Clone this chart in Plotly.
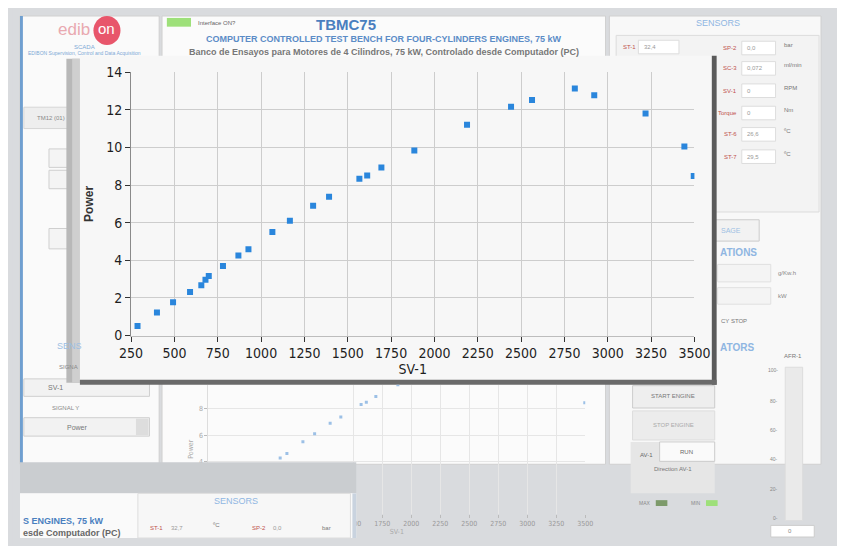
import plotly.graph_objects as go

# ---------------- data ----------------
sv_1 = [287, 399, 492, 590, 655, 679, 698, 780, 869, 927, 1065, 1166, 1300, 1392,
        1567, 1612, 1694, 1884, 2188, 2442, 2563, 2810, 2922, 3218, 3442, 3496]
power = [0.50, 1.22, 1.77, 2.32, 2.67, 2.96, 3.16, 3.70, 4.25, 4.59, 5.50, 6.11, 6.90, 7.38,
         8.34, 8.51, 8.94, 9.84, 11.21, 12.17, 12.53, 13.14, 12.78, 11.81, 10.05, 8.48]
x_ticks = [250, 500, 750, 1000, 1250, 1500, 1750, 2000, 2250, 2500, 2750, 3000, 3250, 3500]
y_ticks = [0, 2, 4, 6, 8, 10, 12, 14]
bg_x_ticks = [1500, 1750, 2000, 2250, 2500, 2750, 3000, 3250, 3500]
bg_y_ticks = [4, 6, 8]

# page body keeps its 8px margin, so the figure is the window minus 16px
OFF = 8
W, H = 845 - 2 * OFF, 554 - 2 * OFF
FONT = "Liberation Sans Narrow, DejaVu Sans Condensed, Roboto Condensed, Liberation Sans, sans-serif"
UIFONT = "Liberation Sans, sans-serif"


def px(x):
    return (x - OFF) / W


def py(y):
    return 1 - (y - OFF) / H


shapes = []
annotations = []


def rect(x0, y0, x1, y1, fill, line=None, lw=1, layer="below"):
    shapes.append(dict(type="rect", xref="paper", yref="paper",
                       x0=px(x0), x1=px(x1), y0=py(y1), y1=py(y0),
                       fillcolor=fill, layer=layer,
                       line=dict(color=line or fill, width=lw if line else 0)))


def text(x, y, s, size=9, color="#666", bold=False, anchor="center", angle=0, font=UIFONT):
    if bold:
        s = "<b>" + s + "</b>"
    annotations.append(dict(xref="paper", yref="paper", x=px(x), y=py(y), text=s,
                            showarrow=False, xanchor=anchor, yanchor="middle",
                            textangle=angle,
                            font=dict(size=size, color=color, family=font)))


# ---------------- background UI ----------------
rect(0, 0, 845, 554, "#d9dbde")
rect(8, 8, 152, 470, "#fafafa", "#d0d0d0")
rect(8, 8, 11, 470, "#6f9fd0")
text(64, 22, "edib", 17, "#e9a9b0")
shapes.append(dict(type="circle", xref="paper", yref="paper", x0=px(84), x1=px(112),
                   y0=py(38), y1=py(8), fillcolor="#e8566b", line=dict(width=0), layer="below"))
text(98, 21, "on", 15, "white")
text(75, 40, "SCADA", 6, "#7ea9d6")
text(75, 46, "EDIBON Supervision, Control and Data Acquisition", 5, "#7ea9d6")
rect(12, 102, 70, 124, "#eeeeee", "#d6d6d6")
text(40, 113, "TM12 (01)", 6, "#888")
rect(38, 145, 150, 164, "#f4f4f4", "#cfcfcf")
rect(38, 167, 150, 186, "#f4f4f4", "#cfcfcf")
rect(38, 227, 150, 248, "#f4f4f4", "#cfcfcf")
text(44, 348, "SENS", 9, "#9dbfe3", anchor="left")
text(46, 370, "SIGNA", 6, "#888", anchor="left")
rect(12, 382, 142, 400, "#f2f2f2", "#cfcfcf")
text(45, 391, "SV-1", 7, "#777")
text(55, 412, "SIGNAL Y", 6, "#888")
rect(12, 422, 142, 441, "#f2f2f2", "#cfcfcf")
rect(128, 423, 141, 440, "#dddddd")
text(68, 432, "Power", 7, "#777")
# center header
rect(155, 8, 614, 470, "#fbfbfb", "#d0d0d0")
rect(160, 10, 185, 19, "#9ee07a")
text(190, 15, "Interface ON?", 6, "#666", anchor="left")
text(345, 17, "TBMC75", 15, "#4a7fbf", bold=True)
text(385, 32, "COMPUTER CONTROLLED TEST BENCH FOR FOUR-CYLINDERS ENGINES, 75 kW", 9, "#5b8cc7", bold=True)
text(385, 45, "Banco de Ensayos para Motores de 4 Cilindros, 75 kW, Controlado desde Computador (PC)", 9, "#777", bold=True)
# right panel
rect(618, 8, 837, 470, "#f8f8f8", "#d0d0d0")
rect(625, 28, 835, 210, "#f3f3f3", "#dddddd")
text(730, 15, "SENSORS", 9, "#8fb6e2")
sensor_rows = [("SP-2", "0,0", "bar", 41), ("SC-3", "0,072", "ml/min", 62), ("SV-1", "0", "RPM", 85),
               ("Torque", "0", "Nm", 108), ("ST-6", "26,6", "ºC", 130), ("ST-7", "29,5", "ºC", 153)]
for lab, val, unit, yy in sensor_rows:
    text(752, yy, lab, 6, "#c0504d", anchor="right")
    rect(755, yy - 7, 790, yy + 7, "white", "#dddddd")
    text(758, yy, val, 6, "#999", anchor="left")
    text(797, yy - 3, unit, 6, "#777", anchor="left")
text(630, 40, "ST-1", 6, "#c0504d", anchor="left")
rect(648, 33, 690, 47, "white", "#dddddd")
text(652, 40, "32,4", 6, "#999", anchor="left")
rect(727, 218, 773, 240, "#f2f2f2", "#cccccc")
text(731, 229, "SAGE", 7, "#9dbfe3", anchor="left")
text(730, 252, "ATIONS", 10, "#8fb6e2", bold=True, anchor="left")
rect(730, 264, 785, 282, "#f4f4f4", "#e0e0e0")
text(790, 273, "g/Kw.h", 6, "#888", anchor="left")
rect(730, 288, 785, 305, "#f4f4f4", "#e0e0e0")
text(790, 297, "kW", 6, "#888", anchor="left")
text(731, 322, "CY STOP", 6, "#777", anchor="left")
text(730, 350, "ATORS", 10, "#8fb6e2", bold=True, anchor="left")
# right bottom controls
rect(642, 389, 727, 412, "#eeeeee", "#cccccc")
text(684, 400, "START ENGINE", 6, "#777")
rect(642, 415, 727, 445, "#ececec", "#dddddd")
text(684, 430, "STOP ENGINE", 6, "#aaa")
rect(640, 447, 727, 500, "#e6e6e6")
rect(670, 447, 727, 467, "#fafafa", "#cccccc")
text(698, 457, "RUN", 6, "#666")
text(656, 460, "AV-1", 6, "#666")
text(684, 475, "Direction AV-1", 6, "#777")
text(655, 510, "MAX", 5, "#888")
rect(666, 507, 678, 513, "#7d9a6a")
text(708, 510, "MIN", 5, "#888")
rect(718, 507, 730, 513, "#9ee07a")
text(808, 358, "AFR-1", 6, "#777")
rect(800, 370, 818, 528, "#eaeaea", "#dddddd")
for v, yy in [(100, 373), (80, 405), (60, 435), (40, 465), (20, 496), (0, 525)]:
    text(795, yy, f"{v}-", 5, "#888", anchor="right")
rect(785, 533, 830, 545, "white", "#cccccc")
text(805, 539, "0", 6, "#888")

# ---------------- main dialog window ----------------
rect(56, 52, 70, 386, "#b8b8b8")
rect(62, 52, 70, 386, "#cfcfcf")
rect(70, 49, 728, 387, "#f7f7f7")
rect(724, 49, 729, 388, "#5a5a5a")
rect(70, 383, 729, 388, "#6a6a6a")

fig = go.Figure()

# faint chart behind the dialog (same data)
fig.add_trace(go.Scatter(x=sv_1, y=power, mode="markers", xaxis="x2", yaxis="y2",
                         marker=dict(symbol="square", size=3, color="#9cc0e6"),
                         showlegend=False, hoverinfo="skip"))
# main chart
fig.add_trace(go.Scatter(x=sv_1, y=power, mode="markers",
                         marker=dict(symbol="square", size=6, color="#2a86dc",
                                     line=dict(width=0)),
                         showlegend=False))

# bottom-left overlay panel (above the faint chart)
rect(8, 468, 356, 500, "#cacdd0", layer="above")
rect(8, 500, 356, 546, "#fafafa", layer="above")
rect(130, 500, 350, 546, "#f7f7f7", "#dddddd", layer="above")
rect(352, 500, 356, 546, "#c9d3df", layer="above")
text(9, 528, "S ENGINES, 75 kW", 9, "#4a7fbf", bold=True, anchor="left")
text(9, 541, "esde Computador (PC)", 9, "#666", bold=True, anchor="left")
text(232, 508, "SENSORS", 9, "#8fb6e2")
text(140, 536, "ST-1", 6, "#c0504d", anchor="left")
text(162, 536, "32,7", 6, "#999", anchor="left")
text(206, 533, "ºC", 6, "#777", anchor="left")
text(246, 536, "SP-2", 6, "#c0504d", anchor="left")
text(268, 536, "0,0", 6, "#999", anchor="left")
text(318, 536, "bar", 6, "#777", anchor="left")

fig.update_layout(
    width=W, height=H,
    margin=dict(l=0, r=0, t=0, b=0),
    paper_bgcolor="#d9dbde",
    plot_bgcolor="#efefef",
    font=dict(family=FONT, color="#222"),
    shapes=shapes,
    annotations=annotations,
    xaxis=dict(domain=[px(123), px(706)], range=[250, 3500], tickvals=x_ticks,
               ticktext=[str(v) for v in x_ticks], ticks="outside", ticklen=5,
               tickcolor="#333", tickfont=dict(size=14, color="#1e1e1e", family=FONT),
               showgrid=True, gridcolor="#cdcdcd", gridwidth=1,
               showline=True, linecolor="#bdbdbd", zeroline=False,
               title=dict(text="SV-1", font=dict(size=14, color="#1e1e1e", family=FONT), standoff=1),
               anchor="y"),
    yaxis=dict(domain=[py(337.3), py(66)], range=[0, 14], tickvals=y_ticks,
               ticks="outside", ticklen=5, tickcolor="#333",
               tickfont=dict(size=14, color="#1e1e1e", family=FONT),
               showgrid=True, gridcolor="#cdcdcd", gridwidth=1,
               showline=True, linecolor="#8a8a8a", zeroline=False,
               title=dict(text="<b>Power</b>", font=dict(size=12, color="#333", family=UIFONT), standoff=10),
               anchor="x"),
    xaxis2=dict(domain=[px(203), px(593)], range=[250, 3500], tickvals=bg_x_ticks,
                ticks="outside", ticklen=3, tickcolor="#bbb",
                tickfont=dict(size=7, color="#999", family=FONT),
                showgrid=True, gridcolor="#e6e6e6", showline=False, zeroline=False,
                title=dict(text="SV-1", font=dict(size=7, color="#aaa", family=FONT), standoff=0),
                anchor="y2"),
    yaxis2=dict(domain=[py(521), py(388)], range=[0, 9.85], tickvals=bg_y_ticks,
                ticks="outside", ticklen=3, tickcolor="#bbb",
                tickfont=dict(size=7, color="#aaa", family=FONT),
                showgrid=True, gridcolor="#e6e6e6", showline=True, linecolor="#dddddd",
                zeroline=False,
                title=dict(text="Power", font=dict(size=7, color="#aaa", family=FONT), standoff=4),
                anchor="x2"),
)

fig.write_html("out.html", config={"displayModeBar": False})
